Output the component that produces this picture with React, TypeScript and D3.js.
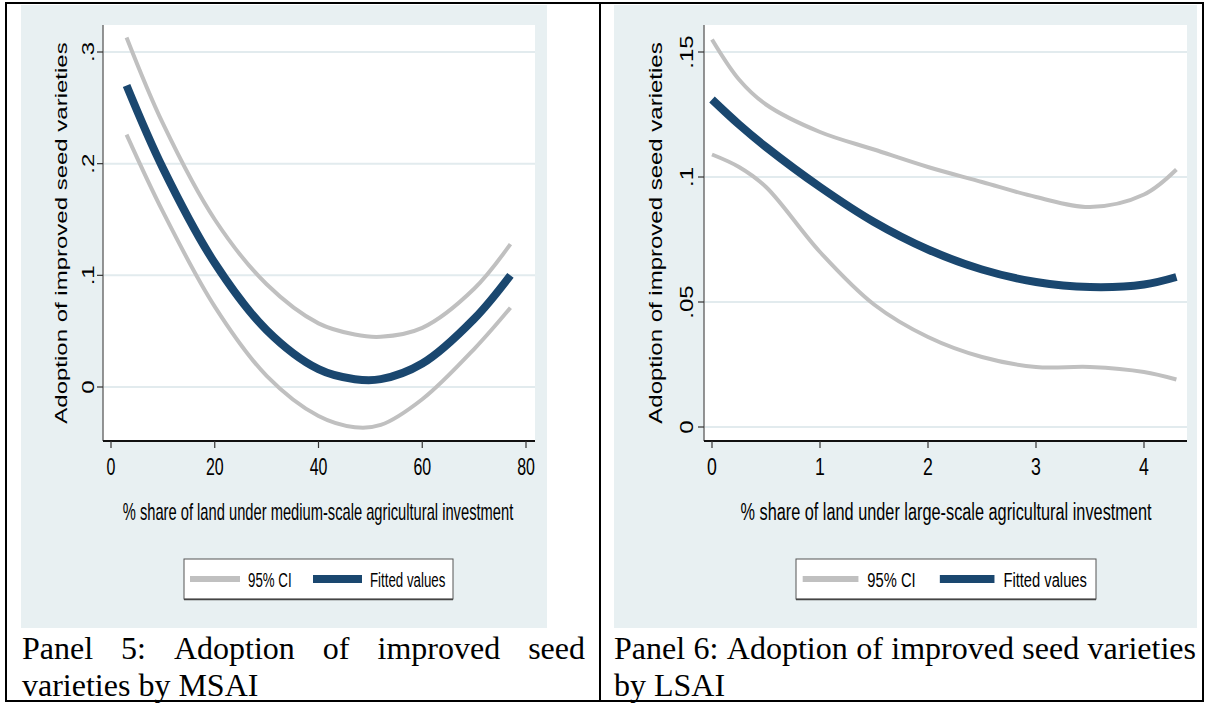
import React, { useEffect, useRef } from 'react';
import * as d3 from 'd3';

// Panel 5: medium-scale agricultural investment (MSAI)
const msaiX = [3, 10, 20, 30, 40, 47, 52, 60, 70, 77];
const msaiFitted = [0.270, 0.196, 0.111, 0.051, 0.016, 0.007, 0.007, 0.021, 0.061, 0.100];
const msaiUpper = [0.313, 0.236, 0.150, 0.092, 0.057, 0.047, 0.045, 0.053, 0.088, 0.128];
const msaiLower = [0.226, 0.157, 0.072, 0.010, -0.026, -0.036, -0.034, -0.011, 0.034, 0.071];
const msaiXTicks = [0, 20, 40, 60, 80];
const msaiYTicks = [0, 0.1, 0.2, 0.3];

// Panel 6: large-scale agricultural investment (LSAI)
const lsaiX = [0, 0.25, 0.5, 1, 1.5, 2, 2.5, 3, 3.5, 4, 4.3];
const lsaiFitted = [0.131, 0.121, 0.112, 0.096, 0.082, 0.071, 0.063, 0.058, 0.056, 0.057, 0.060];
const lsaiUpper = [0.155, 0.139, 0.129, 0.118, 0.111, 0.104, 0.098, 0.092, 0.088, 0.093, 0.103];
const lsaiLower = [0.109, 0.104, 0.096, 0.070, 0.049, 0.036, 0.028, 0.024, 0.024, 0.022, 0.019];
const lsaiXTicks = [0, 1, 2, 3, 4];
const lsaiYTicks = [0, 0.05, 0.1, 0.15];

const yTitle = 'Adoption of improved seed varieties';
const legendLabels = ['95% CI', 'Fitted values'];

const NAVY = '#1a476f';
const GREY = '#c0c0c0';
const BG = '#e8f0f2';
const GRID = '#e2ebee';
const SANS = 'Liberation Sans, Arial, sans-serif';
const SERIF = 'Liberation Serif, Times New Roman, serif';

const fmtTick = (v) => (v === 0 ? '0' : String(v).replace(/^0/, ''));

function squashText(g, x, y, sx, str, size, anchor, rotate = false) {
  return g.append('text')
    .attr('transform', `translate(${x},${y}) scale(${sx},1)${rotate ? ' rotate(-90)' : ''}`)
    .attr('text-anchor', anchor)
    .attr('font-family', SANS)
    .attr('font-size', size)
    .attr('fill', '#000')
    .text(str);
}

function drawPanel(svg, p) {
  const g = svg.append('g');

  g.append('rect')
    .attr('x', p.bg[0]).attr('y', p.bg[1])
    .attr('width', p.bg[2] - p.bg[0]).attr('height', p.bg[3] - p.bg[1])
    .attr('fill', BG);

  g.append('rect')
    .attr('x', p.plot[0]).attr('y', p.plot[1])
    .attr('width', p.plot[2] - p.plot[0]).attr('height', p.plot[3] - p.plot[1])
    .attr('fill', '#fff');

  const x = d3.scaleLinear().domain(p.xDomain).range(p.xRange);
  const y = d3.scaleLinear().domain(p.yDomain).range(p.yRange);

  // gridlines
  g.selectAll('.grid').data(p.yTicks).enter()
    .append('line')
    .attr('x1', p.plot[0]).attr('x2', p.plot[2])
    .attr('y1', d => y(d)).attr('y2', d => y(d))
    .attr('stroke', GRID).attr('stroke-width', 2);

  // lines
  const line = d3.line()
    .x(d => x(d[0]))
    .y(d => y(d[1]))
    .curve(d3.curveCatmullRom.alpha(0.5));

  const series = [
    { vals: p.upper, color: GREY, w: 4 },
    { vals: p.lower, color: GREY, w: 4 },
    { vals: p.fitted, color: NAVY, w: 8 },
  ];
  series.forEach(s => {
    g.append('path')
      .attr('d', line(p.xs.map((xv, i) => [xv, s.vals[i]])))
      .attr('fill', 'none')
      .attr('stroke', s.color)
      .attr('stroke-width', s.w)
      .attr('stroke-linecap', 'butt');
  });

  // y axis
  g.append('line')
    .attr('x1', p.plot[0]).attr('x2', p.plot[0])
    .attr('y1', p.plot[1]).attr('y2', p.plot[3])
    .attr('stroke', '#707070').attr('stroke-width', 1.5);
  p.yTicks.forEach(t => {
    g.append('line')
      .attr('x1', p.plot[0] - 6).attr('x2', p.plot[0])
      .attr('y1', y(t)).attr('y2', y(t))
      .attr('stroke', '#333').attr('stroke-width', 1.2);
    squashText(g, p.yTickLabelX, y(t), p.sx, fmtTick(t), 24, 'middle', true);
  });
  squashText(g, p.yTitleX, (p.plot[1] + p.plot[3]) / 2, p.sx, yTitle, 24, 'middle', true);

  // x axis
  g.append('line')
    .attr('x1', p.plot[0]).attr('x2', p.plot[2])
    .attr('y1', p.plot[3]).attr('y2', p.plot[3])
    .attr('stroke', '#111').attr('stroke-width', 2);
  p.xTicks.forEach(t => {
    g.append('line')
      .attr('x1', x(t)).attr('x2', x(t))
      .attr('y1', p.plot[3]).attr('y2', p.plot[3] + 7)
      .attr('stroke', '#333').attr('stroke-width', 1.2);
    squashText(g, x(t), 475, p.sx * 0.95, String(t), 24, 'middle');
  });
  squashText(g, p.xTitleX, 520, p.sx * 21 / 23, p.xTitle, 23, 'middle');

  // legend
  const [lx0, ly0, lx1, ly1] = p.legend;
  const k = p.legendK;
  g.append('rect')
    .attr('x', lx0).attr('y', ly0)
    .attr('width', lx1 - lx0).attr('height', ly1 - ly0)
    .attr('fill', '#fff').attr('stroke', '#555').attr('stroke-width', 1);
  g.append('line')
    .attr('x1', lx0).attr('x2', lx1).attr('y1', ly1 + 0.5).attr('y2', ly1 + 0.5)
    .attr('stroke', '#444').attr('stroke-width', 1.5);
  const ly = (ly0 + ly1) / 2;
  g.append('line')
    .attr('x1', lx0 + 6 * k).attr('x2', lx0 + 56 * k).attr('y1', ly).attr('y2', ly)
    .attr('stroke', GREY).attr('stroke-width', 6);
  squashText(g, lx0 + 64 * k, ly + 7.5, p.sx * 19 / 21, legendLabels[0], 21, 'start');
  g.append('line')
    .attr('x1', lx0 + 129 * k).attr('x2', lx0 + 178 * k).attr('y1', ly).attr('y2', ly)
    .attr('stroke', NAVY).attr('stroke-width', 8);
  squashText(g, lx0 + 186 * k, ly + 7.5, p.sx * 19 / 21, legendLabels[1], 21, 'start');

  // caption
  const cap = svg.append('g').attr('font-family', SERIF).attr('font-size', 32).attr('fill', '#000');
  const words = p.caption[0].split(' ');
  const nodes = words.map(w => cap.append('text').attr('y', 659).text(w));
  const widths = nodes.map(n => n.node().getComputedTextLength());
  const gap = (p.capRight - p.capLeft - d3.sum(widths)) / (words.length - 1);
  let cx = p.capLeft;
  nodes.forEach((n, i) => { n.attr('x', cx); cx += widths[i] + gap; });
  cap.append('text').attr('x', p.capLeft).attr('y', 696).text(p.caption[1]);
}

export default function App() {
  const ref = useRef(null);

  useEffect(() => {
    const svg = d3.select(ref.current);
    svg.selectAll('*').remove();

    svg.append('rect').attr('width', 1210).attr('height', 704).attr('fill', '#fff');

    drawPanel(svg, {
      bg: [21, 5, 547, 628], plot: [103, 25, 535, 441],
      xDomain: [0, 80], xRange: [111, 526], yDomain: [0, 0.3], yRange: [387, 52],
      xs: msaiX, fitted: msaiFitted, upper: msaiUpper, lower: msaiLower,
      xTicks: msaiXTicks, yTicks: msaiYTicks, sx: 0.70,
      yTitleX: 67, yTickLabelX: 94, xTitleX: 318,
      xTitle: '% share of land under medium-scale agricultural investment',
      legend: [184, 559, 453, 599], legendK: 1,
      caption: ['Panel 5: Adoption of improved seed', 'varieties by MSAI'], capLeft: 22, capRight: 585,
    });

    drawPanel(svg, {
      bg: [614, 5, 1197, 628], plot: [704, 25, 1187, 441],
      xDomain: [0, 4], xRange: [712, 1144], yDomain: [0, 0.15], yRange: [427, 52],
      xs: lsaiX, fitted: lsaiFitted, upper: lsaiUpper, lower: lsaiLower,
      xTicks: lsaiXTicks, yTicks: lsaiYTicks, sx: 0.776,
      yTitleX: 662, yTickLabelX: 693, xTitleX: 946,
      xTitle: '% share of land under large-scale agricultural investment',
      legend: [796, 559, 1096, 599], legendK: 1.115,
      caption: ['Panel 6: Adoption of improved seed varieties', 'by LSAI'], capLeft: 614, capRight: 1196,
    });

    // table borders
    svg.append('rect')
      .attr('x', 6).attr('y', 3).attr('width', 1197).attr('height', 698)
      .attr('fill', 'none').attr('stroke', '#000').attr('stroke-width', 2);
    svg.append('line')
      .attr('x1', 600).attr('x2', 600).attr('y1', 3).attr('y2', 701)
      .attr('stroke', '#000').attr('stroke-width', 2);
  }, []);

  return (
    <div style={{ position: 'absolute', left: 0, top: 0 }}>
      <svg ref={ref} width={1210} height={704} style={{ display: 'block' }} />
    </div>
  );
}
